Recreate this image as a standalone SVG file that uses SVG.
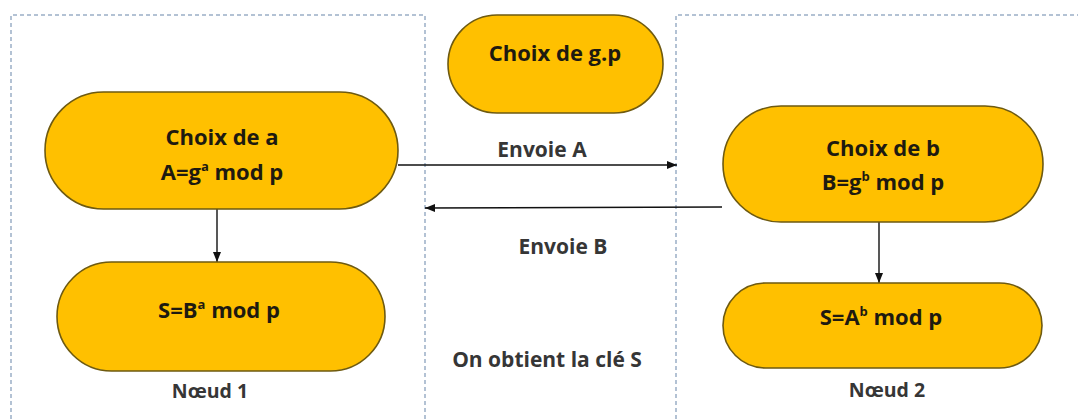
<svg xmlns="http://www.w3.org/2000/svg" width="1078" height="419" viewBox="0 0 1078 419">
  <defs>
    <marker id="arrow" viewBox="0 0 10 10" refX="10" refY="5" markerWidth="10" markerHeight="10" markerUnits="userSpaceOnUse" orient="auto">
      <path d="M0,1 L10,5 L0,9 Z" fill="#111"/>
    </marker>
    <style>
      .zone { fill: none; stroke: #9aaec6; stroke-width: 1.5; stroke-dasharray: 4 3; }
      .node { fill: #ffc000; stroke: #6e5a10; stroke-width: 1.6; }
      .label { font-family: "Open Sans", Lato, "Liberation Sans", sans-serif; font-weight: bold; font-size: 22px; fill: #1e1a10; text-anchor: middle; }
      .note { font-family: "Open Sans", Lato, "Liberation Sans", sans-serif; font-weight: bold; font-size: 21px; fill: #363636; text-anchor: middle; }
      .noeud { font-size: 19.5px; }
      .sup { font-size: 13px; }
      .link { stroke: #111; stroke-width: 1.4; fill: none; marker-end: url(#arrow); }
    </style>
  </defs>
  <rect width="1078" height="419" fill="#fff"/>

  <!-- party zones -->
  <g id="zones">
    <path class="zone" d="M11,419 V15 H425 V419"/>
    <path class="zone" d="M676,419 V15 H1078"/>
  </g>

  <!-- connectors -->
  <g id="connectors">
    <line class="link" x1="217" y1="209" x2="217" y2="262"/>
    <line class="link" x1="398" y1="165" x2="677" y2="165"/>
    <line class="link" x1="722" y1="207" x2="425" y2="208"/>
    <line class="link" x1="879" y1="222" x2="879" y2="283"/>
  </g>

  <g id="node-choix-gp">
    <rect class="node" x="448" y="15" width="215" height="98" rx="49"/>
    <text class="label" x="555" y="61">Choix de g.p</text>
  </g>

  <g id="node-choix-a">
    <rect class="node" x="45" y="92" width="353" height="117" rx="58.5"/>
    <text class="label" x="222" y="145">Choix de a</text>
    <text class="label" x="222" y="180">A=g<tspan class="sup" dy="-9">a</tspan><tspan dy="9"> mod p</tspan></text>
  </g>

  <g id="node-s-a">
    <rect class="node" x="57" y="262" width="328" height="109" rx="54.5"/>
    <text class="label" x="219" y="318">S=B<tspan class="sup" dy="-9">a</tspan><tspan dy="9"> mod p</tspan></text>
  </g>

  <g id="node-choix-b">
    <rect class="node" x="723" y="106" width="320" height="116" rx="58"/>
    <text class="label" x="883" y="156">Choix de b</text>
    <text class="label" x="883" y="190">B=g<tspan class="sup" dy="-9">b</tspan><tspan dy="9"> mod p</tspan></text>
  </g>

  <g id="node-s-b">
    <rect class="node" x="723" y="283" width="319" height="85" rx="42.5"/>
    <text class="label" x="881" y="325">S=A<tspan class="sup" dy="-9">b</tspan><tspan dy="9"> mod p</tspan></text>
  </g>

  <!-- annotations -->
  <g id="labels">
    <text class="note" x="542" y="157">Envoie A</text>
    <text class="note" x="563" y="254">Envoie B</text>
    <text class="note" x="547" y="367">On obtient la clé S</text>
    <text class="note noeud" x="210" y="398">Nœud 1</text>
    <text class="note noeud" x="887" y="397">Nœud 2</text>
  </g>
</svg>
